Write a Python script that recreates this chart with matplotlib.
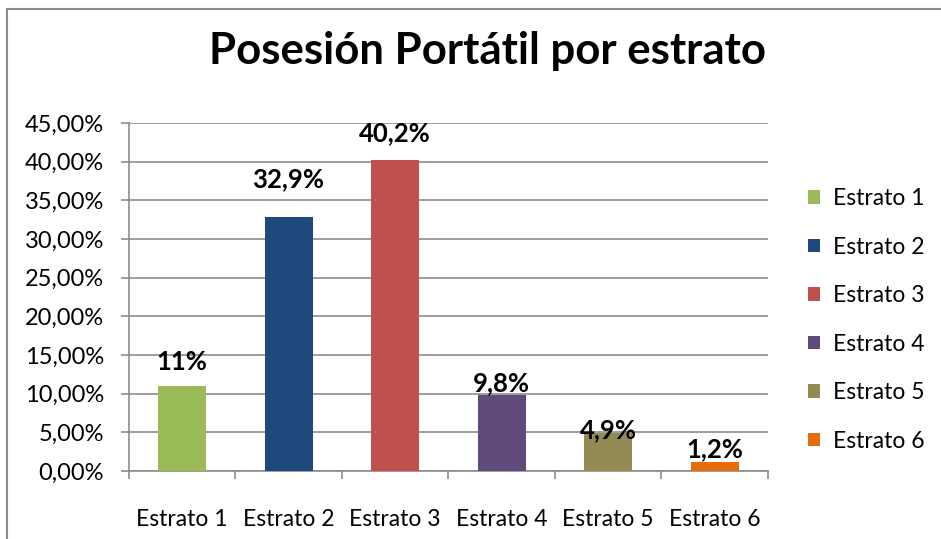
import matplotlib.pyplot as plt
from matplotlib.patches import Rectangle
from matplotlib.ticker import FuncFormatter

# DATA
categorias = ["Estrato 1", "Estrato 2", "Estrato 3", "Estrato 4", "Estrato 5", "Estrato 6"]
valores = [0.11, 0.329, 0.402, 0.098, 0.049, 0.012]
etiquetas = ["11%", "32,9%", "40,2%", "9,8%", "4,9%", "1,2%"]

colores = ["#9BBB59", "#1F497D", "#C0504D", "#604A7B", "#948A54", "#E46C0A"]
# label offsets (points above bar top), labels were moved by hand in the original
offsets = [17, 27, 19.5, 9, 2, 9]

plt.rcParams['font.family'] = ['Lato', 'DejaVu Sans']

fig = plt.figure(figsize=(9.41, 5.39), dpi=100, facecolor='w')
fig.patches.append(Rectangle((7 / 941, -0.1), 1.2, 1 - 9 / 539 + 0.1,
                             transform=fig.transFigure, fill=False,
                             edgecolor='#8c8c8c', linewidth=1.5))

ax = fig.add_axes([0.137, 0.126, 0.679, 0.646])
x = range(len(categorias))
bars = ax.bar(x, valores, width=0.45, color=colores, label=categorias, zorder=3)

for i, b in enumerate(bars):
    ax.annotate(etiquetas[i], (b.get_x() + b.get_width() / 2, b.get_height()),
                xytext=(0, offsets[i]), textcoords='offset points',
                ha='center', va='center', fontsize=18.5, fontweight='bold')

ax.set_ylim(0, 0.45)
ax.set_xlim(-0.5, 5.5)
ax.set_yticks([i * 0.05 for i in range(10)])
ax.yaxis.set_major_formatter(FuncFormatter(lambda v, p: f"{v * 100:.2f}%".replace('.', ',')))
ax.grid(axis='y', color='#8c8c8c', linewidth=1.2, zorder=0)

ax.set_xticks([i + 0.5 for i in range(-1, 6)], minor=False)
ax.set_xticklabels([])
ax.set_xticks(list(x), minor=True)
ax.set_xticklabels(categorias, minor=True)
ax.tick_params(axis='x', which='minor', length=0, pad=27, labelsize=16.5)
ax.tick_params(axis='x', which='major', length=6, color='#8c8c8c', width=1.2)
ax.tick_params(axis='y', length=6, color='#8c8c8c', width=1.2, labelsize=17, pad=12)

for s in ['top', 'right']:
    ax.spines[s].set_visible(False)
for s in ['left', 'bottom']:
    ax.spines[s].set_color('#8c8c8c')
    ax.spines[s].set_linewidth(1.2)

fig.text(0.518, 0.905, "Posesión Portátil por estrato", ha='center', va='center',
         fontsize=31.5, fontweight='bold')

ax.legend(loc='center left', bbox_to_anchor=(1.0, 0.434), frameon=False,
          fontsize=16.5, handlelength=0.53, handleheight=0.53, labelspacing=1.2,
          handletextpad=0.58, borderaxespad=1.35)

fig.savefig("out.png", dpi=100)
